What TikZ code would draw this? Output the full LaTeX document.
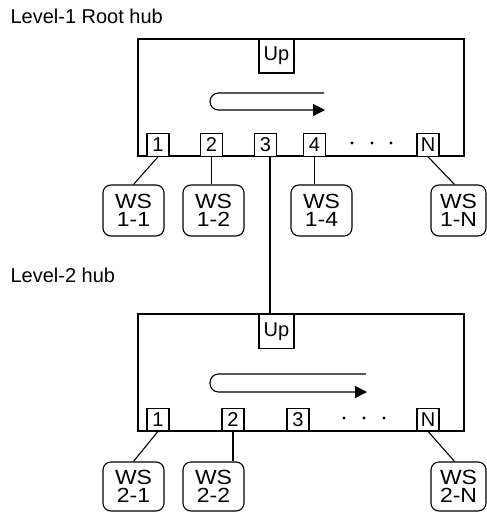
\documentclass[tikz,border=0pt]{standalone}
\usepackage{fontspec}
\usepackage{graphicx}
\setmainfont{Liberation Sans}
\newcommand\wstext[2]{\scalebox{1.12}[1]{#1}\\\scalebox{1.12}[1]{#2}}
\usetikzlibrary{calc,arrows.meta}
\begin{document}
\begin{tikzpicture}[x=1pt,y=-1pt,line width=1.1pt,
  hub/.style={draw,minimum width=326pt,minimum height=117pt,inner sep=0pt},
  port/.style={draw,fill=white,minimum width=22pt,minimum height=22.5pt,inner sep=0pt,
    font=\fontsize{20}{20}\selectfont},
  upbox/.style={port,minimum width=35pt,minimum height=34pt},
  ws/.style={draw,rounded corners=8pt,minimum width=61pt,inner sep=0pt,align=center,
    font=\fontsize{20.5}{18.3}\selectfont},
  lvl/.style={anchor=base west,inner sep=0pt,font=\fontsize{20}{20}\selectfont},
  dotn/.style={circle,fill,inner sep=0pt,minimum size=3.4pt},
  uloop/.style={rounded corners=8.5pt,-{Triangle[length=12pt,width=12pt]}}]
\useasboundingbox (0,0) rectangle (487,512);

% labels
\node[lvl] (lab1) at (10,23) {Level-1 Root hub};
\node[lvl] (lab2) at (10,282) {Level-2 hub};

% hub 1
\node[hub] (hub1) at (301,97.5) {};
\node[upbox] (up1) at (276.5,56) {Up};
\node[port] (p11) at (158,145) {1};
\node[port] (p12) at (211.5,145) {2};
\node[port] (p13) at (265.5,145) {3};
\node[port] (p14) at (314.5,145) {4};
\node[port] (p1n) at (428,145) {N};
\node[dotn] (d11) at (352,143) {};
\node[dotn] (d12) at (372,143) {};
\node[dotn] (d13) at (391,143) {};
\draw[uloop] (324,93) -- (210,93) -- (210,110) -- (325,110);

% hub 2
\node[hub] (hub2) at (301,372.5) {};
\node[upbox] (up2) at (276.5,331.5) {Up};
\node[port] (p21) at (158,419.5) {1};
\node[port] (p22) at (233,419.5) {2};
\node[port] (p23) at (298,419.5) {3};
\node[port] (p2n) at (428,419.5) {N};
\node[dotn] (d21) at (344,418) {};
\node[dotn] (d22) at (364,418) {};
\node[dotn] (d23) at (384,418) {};
\draw[uloop] (366,374) -- (210,374) -- (210,392) -- (367,392);

% workstations level 1
\node[ws,minimum height=51pt] (ws11) at (133.5,210.5) {\wstext{WS}{1-1}};
\node[ws,minimum height=51pt] (ws12) at (213.5,210.5) {\wstext{WS}{1-2}};
\node[ws,minimum height=51pt] (ws14) at (321.5,210.5) {\wstext{WS}{1-4}};
\node[ws,minimum height=51pt,minimum width=55pt] (ws1n) at (458.5,210.5) {\wstext{WS}{1-N}};

% workstations level 2
\node[ws,minimum height=49pt] (ws21) at (133.5,486.5) {\wstext{WS}{2-1}};
\node[ws,minimum height=49pt] (ws22) at (213.5,486.5) {\wstext{WS}{2-2}};
\node[ws,minimum height=49pt,minimum width=55pt] (ws2n) at (458.5,486.5) {\wstext{WS}{2-N}};

% connectors
\draw (p11.south) -- (ws11.north);
\draw (p12.south) -- (p12.south |- ws12.north);
\draw (p14.south) -- (p14.south |- ws14.north);
\draw (p1n.south) -- ($(ws1n.north)+(-4,0)$);
\path ($(p13.south)+(4.5,0)$) coordinate (c3);
\draw (c3) -- (c3 |- up2.north);

\draw (p21.south) -- (ws21.north);
\draw (p22.south) -- (p22.south |- ws22.north);
\draw (p2n.south) -- ($(ws2n.north)+(-4,0)$);
\end{tikzpicture}
\end{document}
